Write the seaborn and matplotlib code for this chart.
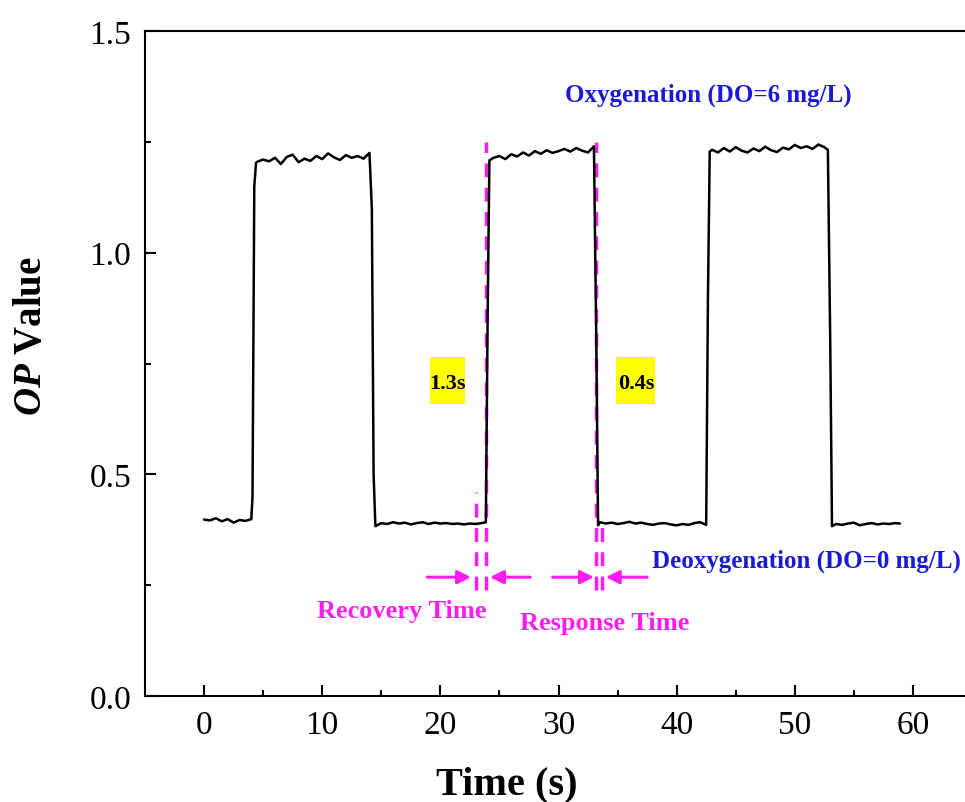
import matplotlib
matplotlib.use('Agg')
import matplotlib.pyplot as plt
import seaborn as sns
import pandas as pd
from matplotlib.patches import Rectangle

# ---- data ----
time_base_a = [0.0, 0.5, 1.0, 1.5, 2.0, 2.5, 3.0, 3.5, 4.0]
op_base_a = [0.398, 0.396, 0.401, 0.394, 0.399, 0.391, 0.397, 0.395, 0.399]
time_rise_a = [4.1, 4.25, 4.4]
op_rise_a = [0.45, 1.15, 1.203]
time_top_a = [4.5, 5.0, 5.5, 6.0, 6.5, 7.0, 7.5, 8.0, 8.5, 9.0, 9.5, 10.0,
              10.5, 11.0, 11.5, 12.0, 12.5, 13.0, 13.5, 14.0]
op_top_a = [1.205, 1.210, 1.206, 1.214, 1.200, 1.216, 1.221, 1.204, 1.212, 1.207,
            1.218, 1.211, 1.224, 1.215, 1.209, 1.220, 1.214, 1.218, 1.212, 1.225]
time_fall_a = [14.2, 14.35]
op_fall_a = [1.10, 0.50]
time_base_b = [14.5, 15.0, 15.5, 16.0, 16.5, 17.0, 17.5, 18.0, 18.5, 19.0, 19.5,
               20.0, 20.5, 21.0, 21.5, 22.0, 22.5, 23.0, 23.5, 23.85]
op_base_b = [0.383, 0.390, 0.388, 0.392, 0.389, 0.391, 0.387, 0.390, 0.392, 0.388,
             0.391, 0.389, 0.390, 0.388, 0.389, 0.387, 0.389, 0.388, 0.390, 0.392]
time_rise_b = [24.0, 24.15]
op_rise_b = [0.85, 1.208]
time_top_b = [24.5, 25.0, 25.5, 26.0, 26.5, 27.0, 27.5, 28.0, 28.5, 29.0, 29.5,
              30.0, 30.5, 31.0, 31.5, 32.0, 32.5, 33.0]
op_top_b = [1.214, 1.218, 1.211, 1.222, 1.217, 1.226, 1.219, 1.229, 1.223, 1.231,
            1.225, 1.229, 1.234, 1.228, 1.236, 1.230, 1.226, 1.240]
time_fall_b = [33.2, 33.35]
op_fall_b = [0.80, 0.385]
time_base_c = [33.5, 34.0, 34.5, 35.0, 35.5, 36.0, 36.5, 37.0, 37.5, 38.0, 38.5,
               39.0, 39.5, 40.0, 40.5, 41.0, 41.5, 42.0, 42.5]
op_base_c = [0.392, 0.389, 0.391, 0.388, 0.390, 0.393, 0.389, 0.391, 0.388, 0.386,
             0.389, 0.390, 0.387, 0.385, 0.388, 0.386, 0.390, 0.392, 0.386]
time_rise_c = [42.65, 42.8]
op_rise_c = [0.90, 1.228]
time_top_c = [43.0, 43.5, 44.0, 44.5, 45.0, 45.5, 46.0, 46.5, 47.0, 47.5, 48.0,
              48.5, 49.0, 49.5, 50.0, 50.5, 51.0, 51.5, 52.0, 52.5, 52.8]
op_top_c = [1.232, 1.226, 1.236, 1.228, 1.238, 1.230, 1.226, 1.235, 1.229, 1.239,
            1.231, 1.227, 1.237, 1.233, 1.243, 1.236, 1.240, 1.234, 1.244, 1.238, 1.232]
time_fall_c = [53.0]
op_fall_c = [0.80]
time_base_d = [53.15, 53.5, 54.0, 54.5, 55.0, 55.5, 56.0, 56.5, 57.0, 57.5, 58.0,
               58.5, 58.9]
op_base_d = [0.383, 0.388, 0.386, 0.389, 0.391, 0.385, 0.388, 0.390, 0.387, 0.389,
             0.388, 0.390, 0.389]

x_ticks = [0, 10, 20, 30, 40, 50, 60]
y_ticks = [0.0, 0.5, 1.0, 1.5]
y_tick_labels = ['0.0', '0.5', '1.0', '1.5']

# ---- assemble ----
time_s = (time_base_a + time_rise_a + time_top_a + time_fall_a + time_base_b +
          time_rise_b + time_top_b + time_fall_b + time_base_c + time_rise_c +
          time_top_c + time_fall_c + time_base_d)
op_value = (op_base_a + op_rise_a + op_top_a + op_fall_a + op_base_b +
            op_rise_b + op_top_b + op_fall_b + op_base_c + op_rise_c +
            op_top_c + op_fall_c + op_base_d)
df = pd.DataFrame({'Time (s)': time_s, 'OP': op_value})

sns.set_theme(style='white')
plt.rcParams['font.family'] = ['Liberation Serif', 'DejaVu Serif']
plt.rcParams['mathtext.fontset'] = 'custom'
plt.rcParams['mathtext.it'] = 'Liberation Serif:italic:bold'
plt.rcParams['mathtext.rm'] = 'Liberation Serif:bold'
plt.rcParams['mathtext.bf'] = 'Liberation Serif:bold'
plt.rcParams['text.color'] = 'black'
plt.rcParams['axes.labelcolor'] = 'black'
plt.rcParams['xtick.color'] = 'black'
plt.rcParams['ytick.color'] = 'black'

MAG = '#FF1CF0'
BLUE = '#1A1AD6'

fig = plt.figure(figsize=(9.65, 8.03), dpi=100)
ax = fig.add_axes([145 / 965, 1 - 697 / 803, 827 / 965, 665 / 803])

sns.lineplot(data=df, x='Time (s)', y='OP', ax=ax, color='black', lw=1.8,
             estimator=None, sort=False, zorder=3)

ax.set_xlim(-5, 65)
ax.set_ylim(0, 1.5)
ax.set_xticks(x_ticks)
ax.set_xticks([5, 15, 25, 35, 45, 55], minor=True)
ax.set_yticks(y_ticks)
ax.set_yticklabels(y_tick_labels)
ax.set_yticks([0.25, 0.75, 1.25], minor=True)
ax.tick_params(which='both', direction='in', width=1.5, colors='black',
               labelcolor='black', labelsize=24, pad=10)
ax.tick_params(which='major', length=8)
ax.tick_params(which='minor', length=4.5)
ax.tick_params(axis='y', which='both', left=True, right=False)
ax.tick_params(axis='x', which='both', bottom=True, top=False)
for side in ['left', 'bottom', 'top', 'right']:
    ax.spines[side].set_linewidth(1.5)
    ax.spines[side].set_color('black')
ax.grid(False)

ax.set_xlabel('Time (s)', fontsize=29, fontweight='bold', color='black')
ax.set_ylabel(r'$\mathit{OP}$ Value', fontsize=28, fontweight='bold', color='black')
ax.xaxis.set_label_coords((507 - 145) / 827, (697 - 785) / 665)
ax.yaxis.set_label_coords((32 - 145) / 827, (697 - 336) / 665)
ax.xaxis.label.set_verticalalignment('center')
ax.yaxis.label.set_verticalalignment('center')

# ---- magenta dashed guide lines ----
dash = (0, (4, 3))
ax.plot([23.88, 23.88], [0.24, 1.25], color=MAG, lw=2.5, ls=dash, zorder=2)
ax.plot([33.2, 33.2], [0.24, 1.25], color=MAG, lw=2.5, ls=dash, zorder=2)
ax.plot([23.0, 23.0], [0.24, 0.46], color=MAG, lw=2.5, ls=dash, zorder=2)
ax.plot([33.68, 33.68], [0.24, 0.40], color=MAG, lw=2.5, ls=dash, zorder=2)

arrow_kw = dict(arrowstyle='-|>', color=MAG, lw=2.2, mutation_scale=20,
                shrinkA=0, shrinkB=0)
for x0, x1 in [(18.9, 22.6), (27.6, 24.2), (29.5, 33.0), (37.5, 34.0)]:
    ax.annotate('', xy=(x1, 0.268), xytext=(x0, 0.268), arrowprops=arrow_kw)

ax.text(16.75, 0.192, 'Recovery Time', color=MAG, fontsize=19, fontweight='bold',
        ha='center', va='center')
ax.text(33.9, 0.165, 'Response Time', color=MAG, fontsize=19, fontweight='bold',
        ha='center', va='center')

# ---- yellow boxes ----
ax.add_patch(Rectangle((19.12, 0.659), 2.96, 0.106, facecolor='#FFFF00',
                       edgecolor='none', zorder=1))
ax.add_patch(Rectangle((34.86, 0.659), 3.3, 0.106, facecolor='#FFFF00',
                       edgecolor='none', zorder=1))
ax.text(20.6, 0.707, '1.3s', fontsize=16, fontweight='bold', ha='center',
        va='center', zorder=4, color='black')
ax.text(36.55, 0.707, '0.4s', fontsize=16, fontweight='bold', ha='center',
        va='center', zorder=4, color='black')

ax.text(42.7, 1.358, 'Oxygenation (DO=6 mg/L)', color=BLUE, fontsize=18,
        fontweight='bold', ha='center', va='center')
ax.text(51.0, 0.305, 'Deoxygenation (DO=0 mg/L)', color=BLUE, fontsize=18,
        fontweight='bold', ha='center', va='center')

fig.savefig('out.png', dpi=100, facecolor='white')
